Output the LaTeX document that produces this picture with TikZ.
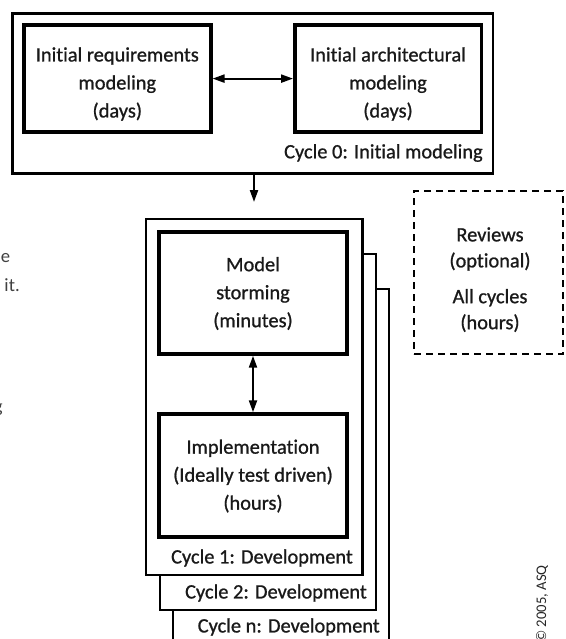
\documentclass[tikz,border=0pt]{standalone}
\usepackage{fontspec}
\setmainfont{Carlito}[Ligatures=NoCommon,FakeBold=0.9]
\newfontfamily\copyfont{Carlito}[Ligatures=NoCommon]
\usetikzlibrary{arrows.meta,fit}
\begin{document}
\begin{tikzpicture}[x=0.75pt,y=-0.75pt,
  inbox/.style={draw,line width=2.6pt,inner sep=0pt},
  outbox/.style={draw,line width=2.1pt,inner sep=0pt},
  cycbox/.style={draw,line width=2pt,inner sep=0pt,fill=white},
  revbox/.style={draw,line width=2pt,inner sep=0pt,dash pattern=on 5.5pt off 3.5pt},
  txt/.style={align=center,font=\fontsize{15.3}{21}\selectfont,inner sep=0pt,text=black!90},
  revtxt/.style={align=center,font=\fontsize{15.3}{19.5}\selectfont,inner sep=0pt,text=black!90},
  lbl/.style={font=\fontsize{15.3}{21}\selectfont,inner sep=0pt,anchor=east,text=black!90},
  frag/.style={font=\copyfont\fontsize{14}{18}\selectfont,inner sep=0pt,anchor=base east,text=black!75},
  arr/.style={line width=1.6pt,-{Triangle[length=9pt,width=6pt]}},
  darr/.style={line width=1.6pt,{Triangle[length=9pt,width=6pt]}-{Triangle[length=9pt,width=6pt]}}]
\useasboundingbox (0,0) rectangle (565,639);

% Cycle 0
\node[outbox,fit={(12.6,13.7) (493,173.7)}] (c0) {};
\node[inbox,fit={(23.8,25.2) (210.8,132)}] (req) {};
\node[inbox,fit={(294.8,25.2) (481.4,132)}] (arch) {};
\node[txt] (reqt) at (117.3,84) {Initial requirements\\modeling\\(days)};
\node[txt] (archt) at (388,84) {Initial architectural\\modeling\\(days)};
\node[lbl] (c0l) at (483,153) {Cycle 0: Initial modeling};
\draw[darr] (req.east) -- (arch.west);

% arrow down
\coordinate (atip) at (254,202);
\draw[arr] (atip |- c0.south) -- (atip);

% development cycles
\node[cycbox,fit={(173,289) (389,665)}] (cn) {};
\node[cycbox,fit={(160,254) (376,610)}] (c2) {};
\node[cycbox,fit={(146,219) (362.5,575)}] (c1) {};
\node[lbl] (cnl) at (380,627) {Cycle n: Development};
\node[lbl] (c2l) at (367,593) {Cycle 2: Development};
\node[lbl] (c1l) at (353,558) {Cycle 1: Development};

\node[inbox,fit={(159,232) (347,354)}] (ms) {};
\node[inbox,fit={(159,414) (347,537)}] (impl) {};
\node[txt] (mst) at (253,293.5) {Model\\storming\\(minutes)};
\node[txt] (implt) at (253,476) {Implementation\\(Ideally test driven)\\(hours)};
\draw[darr] (ms.south) -- (impl.north);

% reviews
\node[revbox,fit={(414,191) (563,354)}] (rev) {};
\node[revtxt] (revt1) at (490,249) {Reviews\\(optional)};
\node[revtxt] (revt2) at (490,310.5) {All cycles\\(hours)};

% copyright
\node[rotate=90,anchor=east,font=\copyfont\fontsize{11}{12}\selectfont,inner sep=0pt,text=black!85] (copy) at (542,565) {© 2005, ASQ};

% cut-off fragments at left edge
\node[frag] (f1) at (10.5,262) {ue};
\node[frag] (f2) at (20,291) {it.};
\node[frag] (f3) at (3,412) {g};
\end{tikzpicture}
\end{document}
